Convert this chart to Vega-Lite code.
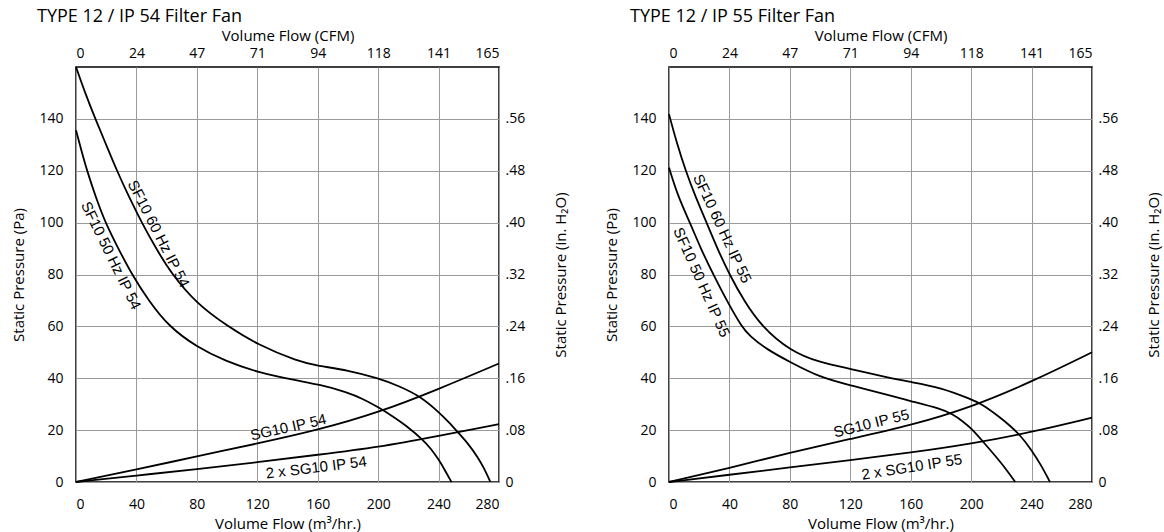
{
  "$schema": "https://vega.github.io/schema/vega-lite/v6.json",
  "background": "white",
  "padding": {"left": 11, "top": 7, "right": 5, "bottom": 5},
  "spacing": 170,
  "bounds": "flush",
  "config": {
    "font": "Open Sans",
    "view": {"stroke": "black", "strokeWidth": 1.5},
    "axis": {"labelFontSize": 14, "titleFontSize": 15, "titleFontWeight": "normal", "labelColor": "black", "titleColor": "black", "ticks": false, "domain": false, "gridColor": "#9a9a9a", "gridWidth": 1, "gridOpacity": 1},
    "title": {"fontSize": 18, "fontWeight": "normal", "color": "black", "anchor": "start", "frame": "group"},
    "text": {"font": "Liberation Sans", "fontSize": 15, "color": "black", "align": "center", "baseline": "middle"},
    "line": {"color": "black", "strokeWidth": 1.8, "interpolate": "basis"}
  },
  "datasets": {
    "ip54": [
      {"series": "SF10 60 Hz IP 54", "x": 0, "y": 160}, {"series": "SF10 60 Hz IP 54", "x": 6, "y": 150}, {"series": "SF10 60 Hz IP 54", "x": 12.8, "y": 140}, {"series": "SF10 60 Hz IP 54", "x": 20, "y": 130}, {"series": "SF10 60 Hz IP 54", "x": 27.1, "y": 120}, {"series": "SF10 60 Hz IP 54", "x": 35, "y": 110}, {"series": "SF10 60 Hz IP 54", "x": 43.5, "y": 100}, {"series": "SF10 60 Hz IP 54", "x": 53, "y": 90}, {"series": "SF10 60 Hz IP 54", "x": 63.5, "y": 80}, {"series": "SF10 60 Hz IP 54", "x": 80, "y": 68.7}, {"series": "SF10 60 Hz IP 54", "x": 100, "y": 60.2}, {"series": "SF10 60 Hz IP 54", "x": 120, "y": 53}, {"series": "SF10 60 Hz IP 54", "x": 147, "y": 46.5}, {"series": "SF10 60 Hz IP 54", "x": 160, "y": 44.8}, {"series": "SF10 60 Hz IP 54", "x": 180, "y": 43.1}, {"series": "SF10 60 Hz IP 54", "x": 200, "y": 40}, {"series": "SF10 60 Hz IP 54", "x": 214, "y": 37}, {"series": "SF10 60 Hz IP 54", "x": 228, "y": 33}, {"series": "SF10 60 Hz IP 54", "x": 240, "y": 27}, {"series": "SF10 60 Hz IP 54", "x": 247, "y": 23}, {"series": "SF10 60 Hz IP 54", "x": 253, "y": 19}, {"series": "SF10 60 Hz IP 54", "x": 260, "y": 14.5}, {"series": "SF10 60 Hz IP 54", "x": 266, "y": 9.5}, {"series": "SF10 60 Hz IP 54", "x": 270, "y": 5.5}, {"series": "SF10 60 Hz IP 54", "x": 274.3, "y": 0},
      {"series": "SF10 50 Hz IP 54", "x": 0, "y": 135.6}, {"series": "SF10 50 Hz IP 54", "x": 3.5, "y": 128}, {"series": "SF10 50 Hz IP 54", "x": 7.3, "y": 120}, {"series": "SF10 50 Hz IP 54", "x": 13, "y": 110}, {"series": "SF10 50 Hz IP 54", "x": 19.4, "y": 100}, {"series": "SF10 50 Hz IP 54", "x": 28, "y": 90}, {"series": "SF10 50 Hz IP 54", "x": 37, "y": 80}, {"series": "SF10 50 Hz IP 54", "x": 48, "y": 70}, {"series": "SF10 50 Hz IP 54", "x": 61.3, "y": 60}, {"series": "SF10 50 Hz IP 54", "x": 80, "y": 52}, {"series": "SF10 50 Hz IP 54", "x": 99, "y": 46.6}, {"series": "SF10 50 Hz IP 54", "x": 120, "y": 42.3}, {"series": "SF10 50 Hz IP 54", "x": 147, "y": 39}, {"series": "SF10 50 Hz IP 54", "x": 160, "y": 37.7}, {"series": "SF10 50 Hz IP 54", "x": 180, "y": 34.6}, {"series": "SF10 50 Hz IP 54", "x": 190, "y": 32}, {"series": "SF10 50 Hz IP 54", "x": 200, "y": 28.9}, {"series": "SF10 50 Hz IP 54", "x": 210, "y": 25.2}, {"series": "SF10 50 Hz IP 54", "x": 218, "y": 22}, {"series": "SF10 50 Hz IP 54", "x": 229.5, "y": 16.4}, {"series": "SF10 50 Hz IP 54", "x": 235, "y": 12.8}, {"series": "SF10 50 Hz IP 54", "x": 240, "y": 8.7}, {"series": "SF10 50 Hz IP 54", "x": 244, "y": 4.8}, {"series": "SF10 50 Hz IP 54", "x": 248.5, "y": 0},
      {"series": "SG10 IP 54", "x": 0, "y": 0}, {"series": "SG10 IP 54", "x": 40, "y": 4.8}, {"series": "SG10 IP 54", "x": 80, "y": 9.9}, {"series": "SG10 IP 54", "x": 120, "y": 14.8}, {"series": "SG10 IP 54", "x": 160, "y": 20}, {"series": "SG10 IP 54", "x": 200, "y": 26.7}, {"series": "SG10 IP 54", "x": 240, "y": 35.8}, {"series": "SG10 IP 54", "x": 280, "y": 45.7},
      {"series": "2 x SG10 IP 54", "x": 0, "y": 0}, {"series": "2 x SG10 IP 54", "x": 40, "y": 2.5}, {"series": "2 x SG10 IP 54", "x": 80, "y": 4.9}, {"series": "2 x SG10 IP 54", "x": 120, "y": 7.6}, {"series": "2 x SG10 IP 54", "x": 160, "y": 10.5}, {"series": "2 x SG10 IP 54", "x": 200, "y": 13.4}, {"series": "2 x SG10 IP 54", "x": 240, "y": 17.8}, {"series": "2 x SG10 IP 54", "x": 280, "y": 22.3}
    ],
    "ip55": [
      {"series": "SF10 60 Hz IP 55", "x": 0, "y": 141.8}, {"series": "SF10 60 Hz IP 55", "x": 5, "y": 131}, {"series": "SF10 60 Hz IP 55", "x": 11, "y": 120}, {"series": "SF10 60 Hz IP 55", "x": 17.5, "y": 110}, {"series": "SF10 60 Hz IP 55", "x": 24.9, "y": 100}, {"series": "SF10 60 Hz IP 55", "x": 32, "y": 90}, {"series": "SF10 60 Hz IP 55", "x": 40, "y": 80}, {"series": "SF10 60 Hz IP 55", "x": 50, "y": 69.5}, {"series": "SF10 60 Hz IP 55", "x": 61.3, "y": 60}, {"series": "SF10 60 Hz IP 55", "x": 80, "y": 50.6}, {"series": "SF10 60 Hz IP 55", "x": 100, "y": 46}, {"series": "SF10 60 Hz IP 55", "x": 120, "y": 43.7}, {"series": "SF10 60 Hz IP 55", "x": 147, "y": 39.9}, {"series": "SF10 60 Hz IP 55", "x": 160, "y": 38.6}, {"series": "SF10 60 Hz IP 55", "x": 180, "y": 36.4}, {"series": "SF10 60 Hz IP 55", "x": 200, "y": 31.9}, {"series": "SF10 60 Hz IP 55", "x": 207.4, "y": 29.9}, {"series": "SF10 60 Hz IP 55", "x": 218, "y": 25.4}, {"series": "SF10 60 Hz IP 55", "x": 226, "y": 21.6}, {"series": "SF10 60 Hz IP 55", "x": 233, "y": 17.7}, {"series": "SF10 60 Hz IP 55", "x": 240, "y": 12.3}, {"series": "SF10 60 Hz IP 55", "x": 246, "y": 6.8}, {"series": "SF10 60 Hz IP 55", "x": 252.2, "y": 0},
      {"series": "SF10 50 Hz IP 55", "x": 0, "y": 121.2}, {"series": "SF10 50 Hz IP 55", "x": 6, "y": 110}, {"series": "SF10 50 Hz IP 55", "x": 13.9, "y": 100}, {"series": "SF10 50 Hz IP 55", "x": 21, "y": 90}, {"series": "SF10 50 Hz IP 55", "x": 29.3, "y": 80}, {"series": "SF10 50 Hz IP 55", "x": 40, "y": 68}, {"series": "SF10 50 Hz IP 55", "x": 48.1, "y": 60}, {"series": "SF10 50 Hz IP 55", "x": 53, "y": 56.5}, {"series": "SF10 50 Hz IP 55", "x": 65, "y": 51}, {"series": "SF10 50 Hz IP 55", "x": 80, "y": 46.3}, {"series": "SF10 50 Hz IP 55", "x": 100, "y": 40.3}, {"series": "SF10 50 Hz IP 55", "x": 120, "y": 37.3}, {"series": "SF10 50 Hz IP 55", "x": 147, "y": 33.2}, {"series": "SF10 50 Hz IP 55", "x": 160, "y": 31.2}, {"series": "SF10 50 Hz IP 55", "x": 180, "y": 28.2}, {"series": "SF10 50 Hz IP 55", "x": 188, "y": 26.1}, {"series": "SF10 50 Hz IP 55", "x": 194, "y": 23.6}, {"series": "SF10 50 Hz IP 55", "x": 200, "y": 20.8}, {"series": "SF10 50 Hz IP 55", "x": 209, "y": 14.8}, {"series": "SF10 50 Hz IP 55", "x": 220, "y": 7.4}, {"series": "SF10 50 Hz IP 55", "x": 229.2, "y": 0},
      {"series": "SG10 IP 55", "x": 0, "y": 0}, {"series": "SG10 IP 55", "x": 40, "y": 5.4}, {"series": "SG10 IP 55", "x": 80, "y": 11.3}, {"series": "SG10 IP 55", "x": 120, "y": 16.6}, {"series": "SG10 IP 55", "x": 160, "y": 21.8}, {"series": "SG10 IP 55", "x": 200, "y": 28.8}, {"series": "SG10 IP 55", "x": 240, "y": 38.6}, {"series": "SG10 IP 55", "x": 280, "y": 50},
      {"series": "2 x SG10 IP 55", "x": 0, "y": 0}, {"series": "2 x SG10 IP 55", "x": 40, "y": 2.8}, {"series": "2 x SG10 IP 55", "x": 80, "y": 5.6}, {"series": "2 x SG10 IP 55", "x": 120, "y": 8.4}, {"series": "2 x SG10 IP 55", "x": 160, "y": 11.3}, {"series": "2 x SG10 IP 55", "x": 200, "y": 14.7}, {"series": "2 x SG10 IP 55", "x": 240, "y": 19.2}, {"series": "2 x SG10 IP 55", "x": 280, "y": 24.8}
    ]
  },
  "hconcat": [
    {
      "width": 423, "height": 415,
      "title": {"text": "TYPE 12 / IP 54 Filter Fan", "dx": -39, "offset": 2},
      "resolve": {"scale": {"x": "independent", "y": "independent"}},
      "layer": [
        {
          "data": {"name": "ip54"},
          "mark": {"type": "line"},
          "encoding": {
            "x": {"field": "x", "type": "quantitative", "scale": {"domain": [0, 280], "nice": false}, "axis": {"orient": "bottom", "values": [0, 40, 80, 120, 160, 200, 240, 280], "title": "Volume Flow (m³/hr.)", "grid": true, "labelPadding": 15, "titlePadding": 5}},
            "y": {"field": "y", "type": "quantitative", "scale": {"domain": [0, 160], "nice": false}, "axis": {"orient": "left", "values": [0, 20, 40, 60, 80, 100, 120, 140], "title": "Static Pressure (Pa)", "grid": true, "labelPadding": 13, "titlePadding": 12}},
            "detail": {"field": "series", "type": "nominal"}
          }
        },
        {
          "data": {"values": [{"label": "SF10 60 Hz IP 54", "x": 54.7, "y": 95.7}]},
          "mark": {"type": "text", "angle": 63},
          "encoding": {
            "x": {"field": "x", "type": "quantitative", "scale": {"domain": [0, 280], "nice": false}, "axis": {"orient": "top", "values": [0, 40, 80, 120, 160, 200, 240, 280], "labelExpr": "format(datum.value * 0.5886, '.0f')", "title": "Volume Flow (CFM)", "grid": false, "labelPadding": 7, "titlePadding": 3}},
            "y": {"field": "y", "type": "quantitative", "scale": {"domain": [0, 160], "nice": false}, "axis": {"orient": "right", "values": [0, 20, 40, 60, 80, 100, 120, 140], "labelExpr": "datum.value == 0 ? '0' : replace(format(datum.value / 250, '.2f'), '0.', '.')", "title": "Static Pressure (in. H₂O)", "titleAngle": -90, "titleBaseline": "top", "grid": false, "labelPadding": 6, "titlePadding": 29}},
            "text": {"field": "label"}
          }
        },
        {
          "data": {"values": [{"label": "SF10 50 Hz IP 54", "x": 23.2, "y": 87.3}]},
          "mark": {"type": "text", "angle": 64},
          "encoding": {
            "x": {"field": "x", "type": "quantitative", "scale": {"domain": [0, 280], "nice": false}, "axis": null},
            "y": {"field": "y", "type": "quantitative", "scale": {"domain": [0, 160], "nice": false}, "axis": null},
            "text": {"field": "label"}
          }
        },
        {
          "data": {"values": [{"label": "SG10 IP 54", "x": 140.6, "y": 21.1}]},
          "mark": {"type": "text", "angle": -12.5},
          "encoding": {
            "x": {"field": "x", "type": "quantitative", "scale": {"domain": [0, 280], "nice": false}, "axis": null},
            "y": {"field": "y", "type": "quantitative", "scale": {"domain": [0, 160], "nice": false}, "axis": null},
            "text": {"field": "label"}
          }
        },
        {
          "data": {"values": [{"label": "2 x  SG10 IP 54", "x": 159, "y": 5.6}]},
          "mark": {"type": "text", "angle": -7},
          "encoding": {
            "x": {"field": "x", "type": "quantitative", "scale": {"domain": [0, 280], "nice": false}, "axis": null},
            "y": {"field": "y", "type": "quantitative", "scale": {"domain": [0, 160], "nice": false}, "axis": null},
            "text": {"field": "label"}
          }
        }
      ]
    },
    {
      "width": 423, "height": 415,
      "title": {"text": "TYPE 12 / IP 55 Filter Fan", "dx": -39, "offset": 2},
      "resolve": {"scale": {"x": "independent", "y": "independent"}},
      "layer": [
        {
          "data": {"name": "ip55"},
          "mark": {"type": "line"},
          "encoding": {
            "x": {"field": "x", "type": "quantitative", "scale": {"domain": [0, 280], "nice": false}, "axis": {"orient": "bottom", "values": [0, 40, 80, 120, 160, 200, 240, 280], "title": "Volume Flow (m³/hr.)", "grid": true, "labelPadding": 15, "titlePadding": 5}},
            "y": {"field": "y", "type": "quantitative", "scale": {"domain": [0, 160], "nice": false}, "axis": {"orient": "left", "values": [0, 20, 40, 60, 80, 100, 120, 140], "title": "Static Pressure (Pa)", "grid": true, "labelPadding": 13, "titlePadding": 12}},
            "detail": {"field": "series", "type": "nominal"}
          }
        },
        {
          "data": {"values": [{"label": "SF10 60 Hz IP 55", "x": 35.3, "y": 97.7}]},
          "mark": {"type": "text", "angle": 65},
          "encoding": {
            "x": {"field": "x", "type": "quantitative", "scale": {"domain": [0, 280], "nice": false}, "axis": {"orient": "top", "values": [0, 40, 80, 120, 160, 200, 240, 280], "labelExpr": "format(datum.value * 0.5886, '.0f')", "title": "Volume Flow (CFM)", "grid": false, "labelPadding": 7, "titlePadding": 3}},
            "y": {"field": "y", "type": "quantitative", "scale": {"domain": [0, 160], "nice": false}, "axis": {"orient": "right", "values": [0, 20, 40, 60, 80, 100, 120, 140], "labelExpr": "datum.value == 0 ? '0' : replace(format(datum.value / 250, '.2f'), '0.', '.')", "title": "Static Pressure (in. H₂O)", "titleAngle": -90, "titleBaseline": "top", "grid": false, "labelPadding": 6, "titlePadding": 29}},
            "text": {"field": "label"}
          }
        },
        {
          "data": {"values": [{"label": "SF10 50 Hz IP 55", "x": 21.6, "y": 77}]},
          "mark": {"type": "text", "angle": 66},
          "encoding": {
            "x": {"field": "x", "type": "quantitative", "scale": {"domain": [0, 280], "nice": false}, "axis": null},
            "y": {"field": "y", "type": "quantitative", "scale": {"domain": [0, 160], "nice": false}, "axis": null},
            "text": {"field": "label"}
          }
        },
        {
          "data": {"values": [{"label": "SG10 IP 55", "x": 133.9, "y": 22.6}]},
          "mark": {"type": "text", "angle": -14},
          "encoding": {
            "x": {"field": "x", "type": "quantitative", "scale": {"domain": [0, 280], "nice": false}, "axis": null},
            "y": {"field": "y", "type": "quantitative", "scale": {"domain": [0, 160], "nice": false}, "axis": null},
            "text": {"field": "label"}
          }
        },
        {
          "data": {"values": [{"label": "2 x SG10 IP 55", "x": 160.7, "y": 5.8}]},
          "mark": {"type": "text", "angle": -9},
          "encoding": {
            "x": {"field": "x", "type": "quantitative", "scale": {"domain": [0, 280], "nice": false}, "axis": null},
            "y": {"field": "y", "type": "quantitative", "scale": {"domain": [0, 160], "nice": false}, "axis": null},
            "text": {"field": "label"}
          }
        }
      ]
    }
  ]
}
